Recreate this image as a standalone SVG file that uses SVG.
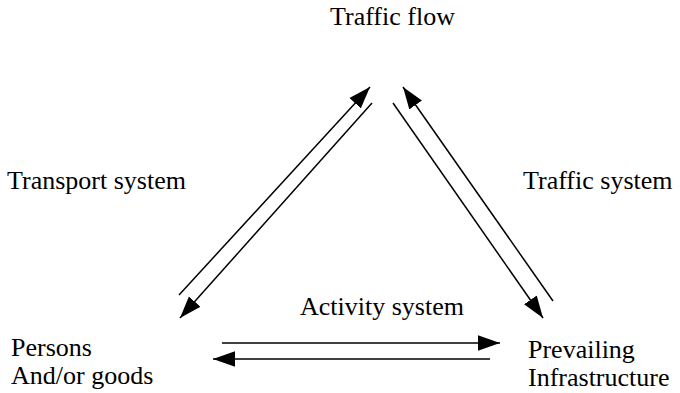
<svg xmlns="http://www.w3.org/2000/svg" width="680" height="393" viewBox="0 0 680 393">
<style>
text{font-family:"Liberation Serif","Times New Roman",serif;font-size:26px;fill:#000}
.c line{stroke:#000;stroke-width:1.5;fill:none;marker-end:url(#ah)}
</style>
<defs>
<marker id="ah" markerUnits="userSpaceOnUse" markerWidth="22" markerHeight="16" viewBox="0 0 20 14" refX="20" refY="7" orient="auto">
<path d="M0,0 L20,7 L0,14 Z" fill="#000"/>
</marker>
</defs>
<rect width="680" height="393" fill="#fff"/>
<g id="traffic-flow"><text x="330" y="25">Traffic flow</text></g>
<g id="transport-system"><text x="7" y="189">Transport system</text></g>
<g id="traffic-system"><text x="523" y="189">Traffic system</text></g>
<g id="activity-system"><text x="300" y="315">Activity system</text></g>
<g id="persons"><text x="11" y="356">Persons</text><text x="11" y="384">And/or goods</text></g>
<g id="infrastructure"><text x="528" y="358">Prevailing</text><text x="528" y="386">Infrastructure</text></g>
<g class="c" id="connectors">
<line x1="179" y1="295" x2="370" y2="87"/>
<line x1="372" y1="103" x2="180" y2="318"/>
<line x1="553" y1="301" x2="403" y2="87"/>
<line x1="393" y1="103" x2="543" y2="318"/>
<line x1="222" y1="343" x2="500" y2="343"/>
<line x1="490" y1="359" x2="213" y2="359"/>
</g>
</svg>
